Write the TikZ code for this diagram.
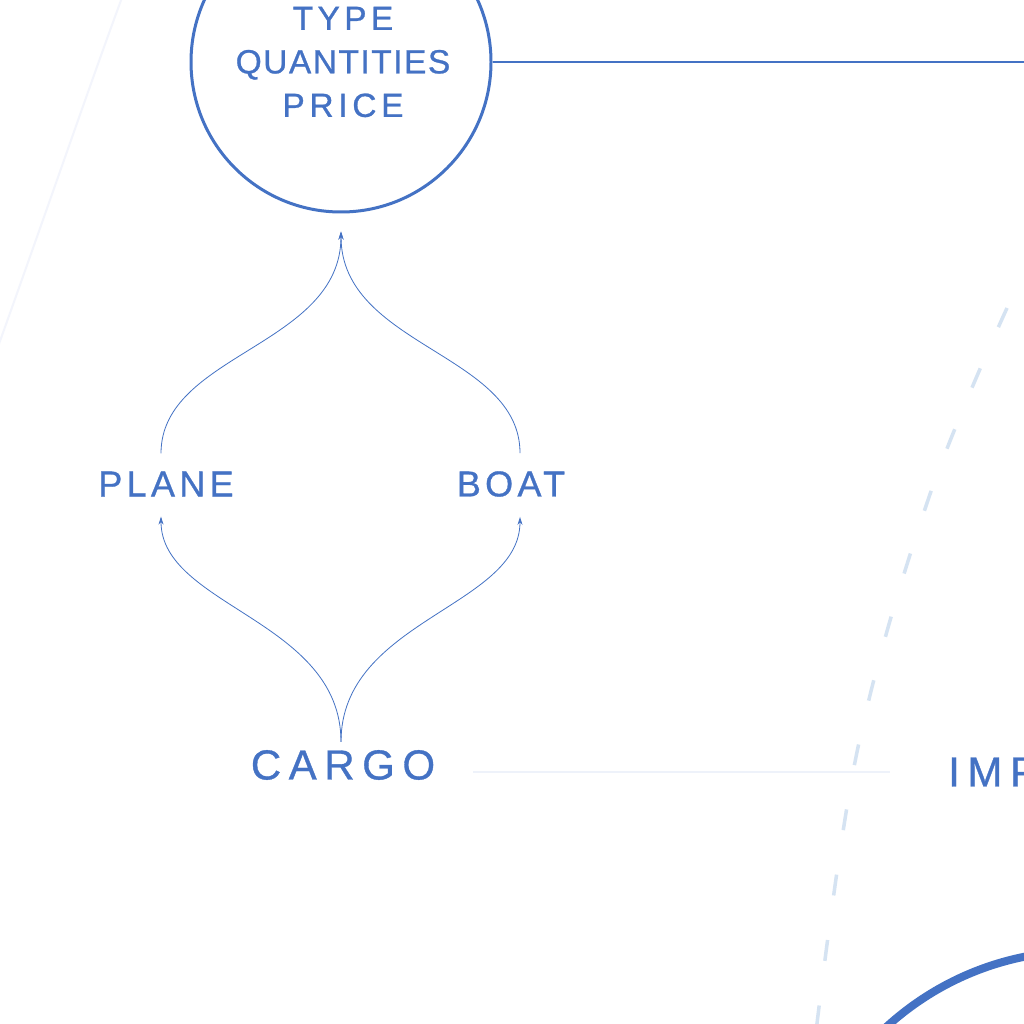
\documentclass[tikz,border=0pt]{standalone}
\usepackage{fontspec}
\setmainfont{Liberation Sans}[FakeBold=0.8]
\usetikzlibrary{arrows.meta}
\definecolor{ink}{HTML}{4472C4}
\definecolor{dashblue}{HTML}{D5E3F2}
\definecolor{faintline}{HTML}{EEF2FA}
\definecolor{faintarc}{HTML}{F3F5FC}
\newcommand{\ls}[2]{{\addfontfeature{LetterSpace=#1}#2}}
\begin{document}
\begin{tikzpicture}[x=1pt,y=-1pt,
  lblA/.style={text=ink, inner sep=0pt, font=\fontsize{33.5}{43.5}\selectfont},
  lblB/.style={text=ink, font=\fontsize{36}{40}\selectfont\addfontfeature{LetterSpace=12}},
  lblC/.style={text=ink, font=\fontsize{42}{46}\selectfont\addfontfeature{LetterSpace=18}},
  conn/.style={draw=ink, line width=0.8pt, -{Stealth[length=8pt,width=5pt]}},
  bigring/.style={circle, draw=ink, inner sep=0pt}]
\useasboundingbox (0,0) rectangle (1024,1024);
\clip (0,0) rectangle (1024,1024);
\fill[white] (0,0) rectangle (1024,1024);

% faint background arc (left)
\draw[faintarc, line width=2pt] (123,-5) .. controls (95,70) and (40,230) .. (-5,355);

% dashed light arc (right)
\draw[dashblue, line width=3.5pt, dash pattern=on 21pt off 45pt]
  plot[smooth, tension=0.6] coordinates {(1007,308) (928,500) (857,752) (815,1040)};

% nodes
\node[bigring, line width=3pt, minimum size=300pt] (circ) at (341,62) {};
\node[lblA, align=center] (info) at (343,62) {\ls{13}{TYPE}\\\ls{4.5}{QUANTITIES}\\\ls{14}{PRICE}};
\node[lblB, inner sep=18pt] (plane) at (166,484) {PLANE};
\node[lblB, inner sep=18pt] (boat) at (511,484) {BOAT};
\node[lblC, inner sep=8pt] (cargo) at (343,765) {CARGO};
\node[lblC, anchor=west, inner sep=0pt] (imp) at (948,772) {IMPORT};
\node[bigring, line width=8pt, minimum size=580pt] (ring) at (1082,1241) {};
\coordinate (edgeR) at (1030,62);

% connectors
\draw[ink, line width=1.5pt] (circ.east) -- (edgeR);
\draw[faintline, line width=1.2pt] ([xshift=30pt]cargo.east |- imp.west) -- ([xshift=-58pt]imp.west);
\draw[conn] ([xshift=-5pt]plane.north) .. controls +(0,-100) and +(0,115) .. ([yshift=-18pt]circ.south);
\draw[conn] ([xshift=9pt]boat.north) .. controls +(0,-100) and +(0,115) .. ([yshift=-18pt]circ.south);
\draw[conn] ([xshift=-2pt]cargo.north) .. controls +(0,-122) and +(0,90) .. ([xshift=-5pt,yshift=-2pt]plane.south);
\draw[conn] ([xshift=-2pt]cargo.north) .. controls +(0,-122) and +(0,90) .. ([xshift=9pt,yshift=-2pt]boat.south);
\end{tikzpicture}
\end{document}
